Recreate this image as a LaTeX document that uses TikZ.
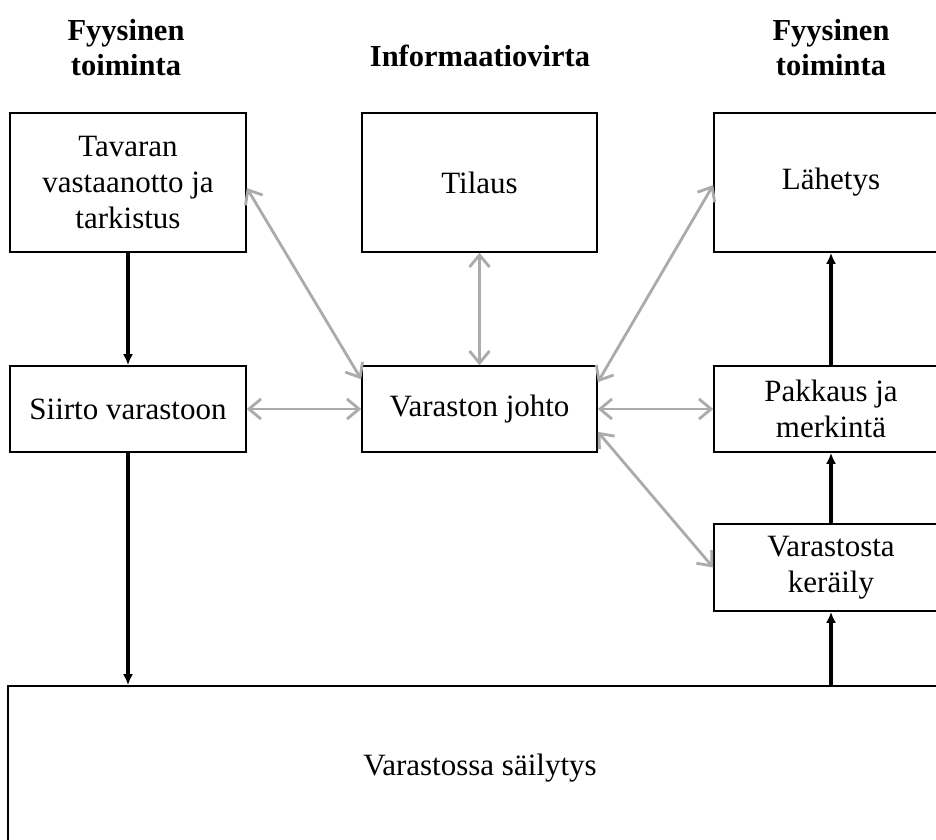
\documentclass[tikz,border=0pt]{standalone}
\usepackage{fontspec}
\setmainfont{Liberation Serif}
\usetikzlibrary{arrows.meta,calc}

\tikzset{
  box/.style={draw=black, line width=1.6pt, rectangle, inner sep=0pt,
              align=center, font=\fontsize{31}{36}\selectfont},
  header/.style={align=center, font=\fontsize{30.5}{35}\selectfont\bfseries},
  flow/.style={draw=black, line width=3.2pt, -{Latex[length=11pt,width=10pt]}},
  info/.style={draw=black!33, line width=2.8pt,
               {Straight Barb[length=12pt,width=20pt]}-{Straight Barb[length=12pt,width=20pt]}},
}

\begin{document}
\begin{tikzpicture}[x=1pt, y=-1pt]
  \clip (0,0) rectangle (936,839);
  \fill[white] (0,0) rectangle (936,839);

  % column headers
  \node[header] (hleft)  at (126,48) {Fyysinen\\toiminta};
  \node[header] (hmid)   at (480,56) {Informaatiovirta};
  \node[header] (hright) at (831,48) {Fyysinen\\toiminta};

  % boxes (right-hand column and storage run off the page edge)
  \node[box, minimum width=236pt, minimum height=139pt] (recv)  at (128,182.5) {Tavaran\\vastaanotto ja\\tarkistus};
  \node[box, minimum width=235pt, minimum height=139pt] (order) at (479.5,182.5) {Tilaus};
  \node[box, minimum width=234pt, minimum height=139pt] (ship)  at (831,182.5) {Lähetys};

  \node[box, minimum width=236pt, minimum height=86pt] (move)  at (128,409) {Siirto varastoon};
  \node[box, minimum width=235pt, minimum height=86pt] (ctrl)  at (479.5,409) {Varaston johto};
  \node[box, minimum width=234pt, minimum height=86pt] (pack)  at (831,409) {Pakkaus ja\\merkintä};

  \node[box, minimum width=234pt, minimum height=87pt] (pick)  at (831,567.5) {Varastosta\\keräily};

  \node[box, minimum width=944pt, minimum height=164pt] (store) at (480,768) {Varastossa säilytys};

  % physical flow
  \draw[flow] (recv.south) -- (move.north);
  \draw[flow] (move.south) -- (move.south |- store.north);
  \draw[flow] (pick.south |- store.north) -- (pick.south);
  \draw[flow] (pick.north) -- (pack.south);
  \draw[flow] (pack.north) -- (ship.south);

  % information flow
  \draw[info] ([yshift=-5.5pt]recv.east) -- ([yshift=-14pt]ctrl.north west);
  \draw[info] (order.south) -- (ctrl.north);
  \draw[info] (move.east) -- (ctrl.west);
  \draw[info] (ctrl.east) -- (pack.west);
  \draw[info] ([yshift=-17pt]ctrl.north east) -- ([yshift=-2.5pt]ship.west);
  \draw[info] ([yshift=21pt]ctrl.south east) -- (pick.west);
\end{tikzpicture}
\end{document}
